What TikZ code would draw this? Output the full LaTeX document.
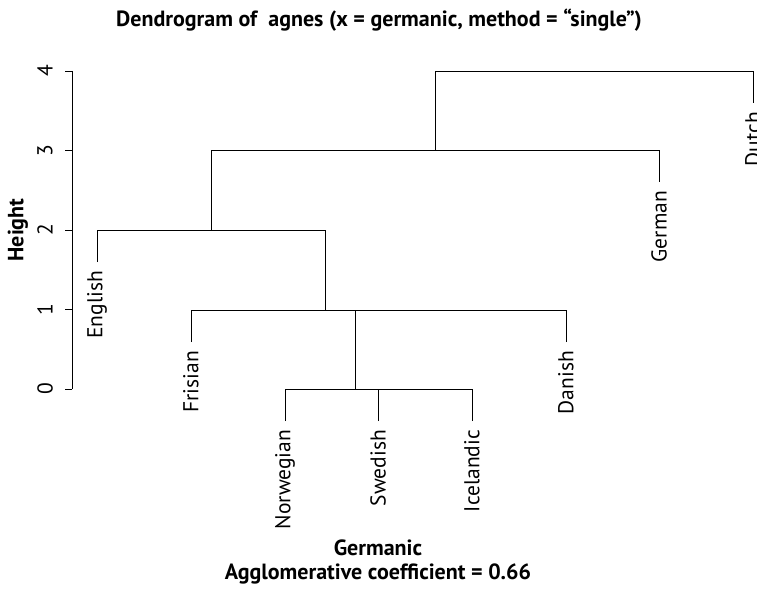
\documentclass[tikz,border=0pt]{standalone}
\usepackage{fontspec}
\setmainfont{PT Sans}
\usetikzlibrary{positioning}

\begin{document}
\begin{tikzpicture}[x=1pt,y=-1pt,line width=0.8pt,
    leaf/.style={rotate=90,anchor=east,inner sep=0pt,outer sep=9pt,font=\fontsize{21.5}{25}\selectfont},
    ticklabel/.style={rotate=90,inner sep=0pt,font=\fontsize{21.5}{25}\selectfont},
    axislabel/.style={inner sep=0pt,font=\bfseries\fontsize{22}{26}\selectfont},
    titlelabel/.style={inner sep=0pt,font=\bfseries\fontsize{22}{26}\selectfont}]
    \useasboundingbox (0,0) rectangle (757,596);

    % titles
    \node[titlelabel] (title) at (379,20) {Dendrogram of\ \ agnes (x = germanic, method = “single”)};
    \node[axislabel] (xlab) at (378,548) {Germanic};
    \node[axislabel] (coef) at (378,574) {Agglomerative coefficient = 0.66};
    \node[axislabel,rotate=90] (ylab) at (18,230) {Height};

    % height axis
    \draw (72,71) -- (72,389);
    \foreach \h in {0,...,4} {
        \draw (72,389-79.5*\h) -- ++(-7,0);
        \node[ticklabel] at (45,389-79.5*\h) {\h};
    }

    % leaves
    \node[leaf] (english)   at (97,262)  {English};
    \node[leaf] (frisian)   at (191,342) {Frisian};
    \node[leaf] (norwegian) at (285,421) {Norwegian};
    \node[leaf] (swedish)   at (378,421) {Swedish};
    \node[leaf] (icelandic) at (472,421) {Icelandic};
    \node[leaf] (danish)    at (566,342) {Danish};
    \node[leaf] (german)    at (659,182) {German};
    \node[leaf] (dutch)     at (753,103) {Dutch};

    % merges
    \coordinate (m1) at (355,389);
    \coordinate (m2) at (325,310);
    \coordinate (m3) at (211,230);
    \coordinate (m4) at (435,150);
    \coordinate (m5) at (594,71);

    \path[draw]
        (norwegian.east) |- (m1)
        (swedish.east) |- (m1)
        (icelandic.east) |- (m1)
        (frisian.east) |- (m2)
        (danish.east) |- (m2)
        (m1) |- (m2)
        (english.east) |- (m3)
        (m2) |- (m3)
        (german.east) |- (m4)
        (m3) |- (m4)
        (dutch.east) |- (m5)
        (m4) |- (m5)
    ;
\end{tikzpicture}
\end{document}
